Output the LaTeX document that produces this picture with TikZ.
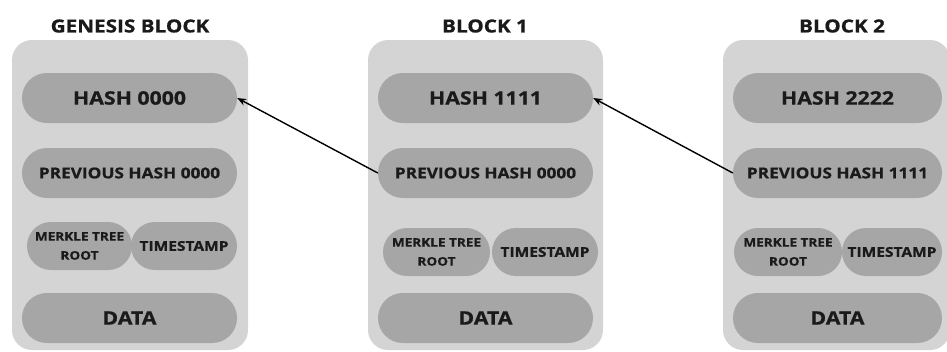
\documentclass[tikz,border=0pt]{standalone}
\usepackage{fontspec}
\setmainfont{Open Sans}[BoldFont={* Bold}, BoldFeatures={FakeStretch=1.15, FakeBold=0.8}]
\usetikzlibrary{arrows.meta}
\definecolor{outerg}{HTML}{D4D4D4}
\definecolor{pillg}{HTML}{A6A6A6}
\definecolor{txt}{HTML}{1A1A1A}
\tikzset{
  blockbox/.style={fill=outerg, draw=none, rounded corners=20pt},
  pill/.style={fill=pillg, draw=none, rounded corners=24.9pt, minimum height=50pt, inner sep=0pt, text=txt, font=\bfseries\fontsize{18.5}{22}\selectfont},
  prevpill/.style={pill, font=\bfseries\fontsize{15}{18}\selectfont},
  smallpill/.style={pill, minimum height=48pt, rounded corners=23.9pt, font=\bfseries\fontsize{13.5}{15}\selectfont},
  merkle/.style={smallpill, align=center, font=\bfseries\fontsize{11.8}{19}\selectfont},
  title/.style={text=txt, font=\bfseries\fontsize{18}{20}\selectfont, inner sep=0pt},
  link/.style={draw=black, line width=1.4pt, -{Stealth[length=9pt,width=7pt]}}
}
\begin{document}
\begin{tikzpicture}[x=1pt,y=-1pt]
\useasboundingbox (0,0) rectangle (947,351);
\clip (0,0) rectangle (947,351);
% titles
\node[title] (t0) at (130,26) {GENESIS BLOCK};
\node[title] (t1) at (485,26) {BLOCK 1};
\node[title] (t2) at (842,26) {BLOCK 2};
% outer boxes
\path[blockbox] (12,40) rectangle (248,350);
\path[blockbox] (368,40) rectangle (603,350);
\path[blockbox] (723,40) rectangle (950,350);
% genesis
\node[pill, minimum width=215pt] (gh) at (129.5,98) {HASH 0000};
\node[prevpill, minimum width=215pt] (gp) at (129.5,173) {PREVIOUS HASH 0000};
\node[merkle, minimum width=105pt] (gm) at (79.5,246) {MERKLE TREE\\ROOT};
\node[smallpill, minimum width=106pt] (gt) at (184,246) {TIMESTAMP};
\node[pill, minimum width=215pt] (gd) at (129.5,318) {DATA};
% block 1
\node[pill, minimum width=215pt] (bh) at (485.5,98) {HASH 1111};
\node[prevpill, minimum width=215pt] (bp) at (485.5,173) {PREVIOUS HASH 0000};
\node[merkle, minimum width=107pt] (bm) at (436.5,252) {MERKLE TREE\\ROOT};
\node[smallpill, minimum width=106pt] (bt) at (545,252) {TIMESTAMP};
\node[pill, minimum width=215pt] (bd) at (485.5,318) {DATA};
% block 2
\node[pill, minimum width=209pt] (ch) at (837.5,98) {HASH 2222};
\node[prevpill, minimum width=209pt] (cp) at (837.5,173) {PREVIOUS HASH 1111};
\node[merkle, minimum width=108pt] (cm) at (788,252) {MERKLE TREE\\ROOT};
\node[smallpill, minimum width=100pt] (ct) at (892,252) {TIMESTAMP};
\node[pill, minimum width=209pt] (cd) at (837.5,318) {DATA};
% links
\draw[link] (bp.west) -- (gh.east);
\draw[link] (cp.west) -- (bh.east);
\end{tikzpicture}
\end{document}
